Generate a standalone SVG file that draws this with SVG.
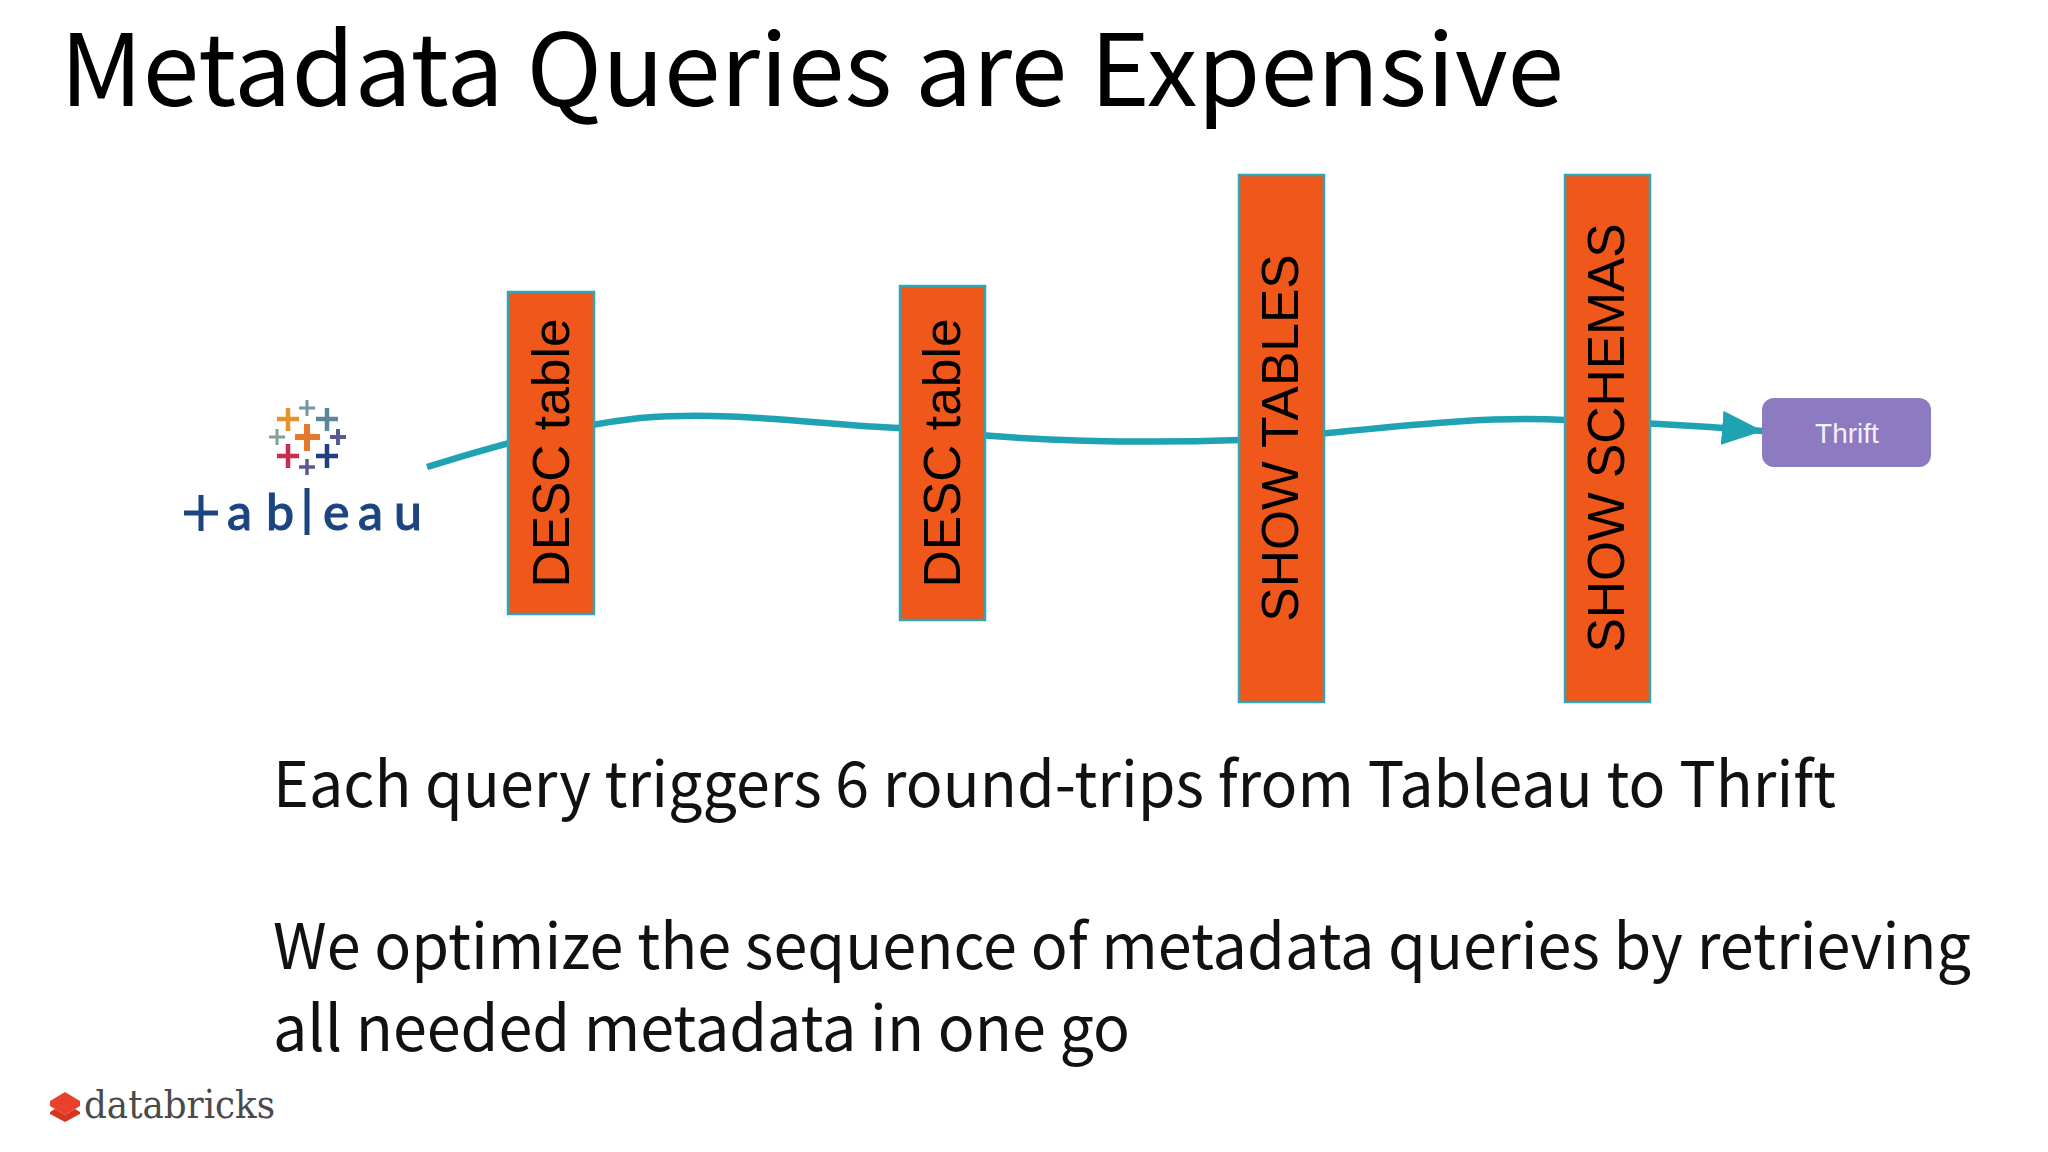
<svg xmlns="http://www.w3.org/2000/svg" width="2048" height="1152" viewBox="0 0 2048 1152">
<style>
.h{font-family:"Noto Sans CJK SC","Noto Sans",sans-serif;fill:#000}
.b{font-family:"Noto Sans CJK SC","Noto Sans",sans-serif;font-size:63px;fill:#111}
.bar{fill:#ef571b;stroke:#2fa6b4;stroke-width:2.5}
.v{font-family:"Liberation Sans",Arial,sans-serif;font-size:51.5px;fill:#000;text-anchor:middle}
.c{fill:none;stroke:#1fa3b3;stroke-width:6.5}
.t{font-family:Lato,sans-serif;font-size:50px;font-weight:500;fill:#1c4480;stroke:#1c4480;stroke-width:1}
</style>
<defs>
<marker id="a" markerUnits="userSpaceOnUse" markerWidth="46" markerHeight="36" refX="41" refY="17" orient="auto"><path d="M0 0L41 17L0 34Z" fill="#1fa3b3"/></marker>
</defs>
<rect width="2048" height="1152" fill="#fff"/>
<text class="h" x="60" y="106" font-size="100" textLength="1504" lengthAdjust="spacingAndGlyphs">Metadata Queries are Expensive</text>
<g id="connectors">
<path class="c" d="M427 467C470 454 550 428 640 418C730 410 820 425 900 428C1010 440 1130 444 1240 440C1330 436 1460 414 1565 420C1640 422 1700 426 1763 431" marker-end="url(#a)"/>
</g>
<g id="tableau">
<g fill="none" stroke-width="4.5">
<path stroke="#e8922c" d="M277 419H299M288 408V431"/>
<path stroke="#7099a6" stroke-width="3" d="M299 408H315M307 400V416"/>
<path stroke="#5b879b" d="M316 419H338M327 408V431"/>
<path stroke="#7f9f97" stroke-width="3" d="M269 437H285M277 429V445"/>
<path stroke="#e8762c" stroke-width="6" d="M295 437H320M307 424V451"/>
<path stroke="#59598f" stroke-width="4" d="M330 437H346M338 429V445"/>
<path stroke="#c72b4e" d="M277 456H299M288 444V468"/>
<path stroke="#1f3f7f" d="M316 456H338M327 444V468"/>
<path stroke="#59598f" stroke-width="3.5" d="M299 467H315M307 459V475"/>
</g>
<g stroke="#1c4480" stroke-width="5" fill="none"><path d="M184 513H218M201 495V531"/><path d="M307 488V535"/></g>
<text class="t" x="227" y="530">a</text>
<text class="t" x="266" y="530">b</text>
<text class="t" x="323" y="530">e</text>
<text class="t" x="358" y="530">a</text>
<text class="t" x="394" y="530">u</text>
</g>
<g id="n1"><rect class="bar" x="508" y="292" width="86" height="322"/><text class="v" transform="translate(569 453) rotate(-90)">DESC table</text></g>
<g id="n2"><rect class="bar" x="900" y="286" width="85" height="334"/><text class="v" transform="translate(960 453) rotate(-90)">DESC table</text></g>
<g id="n3"><rect class="bar" x="1239" y="175" width="85" height="527"/><text class="v" transform="translate(1298 438) rotate(-90)">SHOW TABLES</text></g>
<g id="n4"><rect class="bar" x="1565" y="175" width="85" height="527"/><text class="v" transform="translate(1624 438) rotate(-90)">SHOW SCHEMAS</text></g>
<g id="thrift"><rect x="1762" y="398" width="169" height="69" rx="12" fill="#8c7bc1"/><text x="1847" y="443" font-family="Liberation Sans,sans-serif" font-size="28" fill="#f4f0fa" text-anchor="middle">Thrift</text></g>
<text class="b" x="273" y="807" textLength="1563" lengthAdjust="spacingAndGlyphs">Each query triggers 6 round-trips from Tableau to Thrift</text>
<text class="b" x="273" y="969" textLength="1698" lengthAdjust="spacingAndGlyphs">We optimize the sequence of metadata queries by retrieving</text>
<text class="b" x="273" y="1051" textLength="857" lengthAdjust="spacingAndGlyphs">all needed metadata in one go</text>
<g id="databricks">
<path d="M50 1101L65 1092L80 1101V1106L65 1115L50 1106Z" fill="#e8412c"/>
<path d="M50 1112L55 1109L65 1115L75 1109L80 1112V1114L65 1122L50 1114Z" fill="#d7351f"/>
<text x="84" y="1118" font-family="DejaVu Serif,serif" font-size="40" fill="#4a4a4a" textLength="191" lengthAdjust="spacingAndGlyphs">databricks</text>
</g>
</svg>
